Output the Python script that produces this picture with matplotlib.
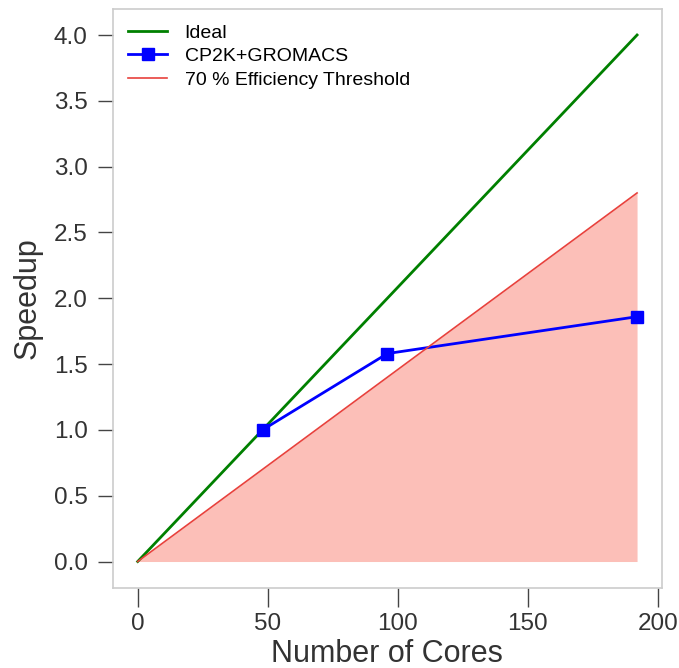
import matplotlib
matplotlib.use("Agg")
import matplotlib.pyplot as plt
import numpy as np

# core counts and measured speedups
cores = np.array([0, 48, 96, 192])
ideal = cores / 48.0
threshold = 0.7 * ideal

run_cores = [48, 96, 192]
run_speedup = [1.0, 1.58, 1.86]

x_ticks = [0, 50, 100, 150, 200]
y_ticks = [0.0, 0.5, 1.0, 1.5, 2.0, 2.5, 3.0, 3.5, 4.0]

plt.rcParams['font.family'] = ['Liberation Sans', 'DejaVu Sans']

fig = plt.figure(figsize=(6.79, 6.68), dpi=100)
ax = fig.add_axes([0.166, 0.12, 0.809, 0.867])

ax.plot(cores, ideal, color='green', lw=2, label='Ideal')
ax.plot(run_cores, run_speedup, color='blue', lw=2, marker='s', ms=8,
        label='CP2K+GROMACS')
ax.plot(cores, threshold, color='#e8413c', lw=1.2,
        label='70 % Efficiency Threshold')
ax.fill_between(cores, 0, threshold, color='salmon', alpha=0.5, lw=0)

ax.set_xlim(-9.6, 201.6)
ax.set_ylim(-0.2, 4.2)
ax.set_xticks(x_ticks)
ax.set_yticks(y_ticks)
ax.set_yticklabels(["%.1f" % v for v in y_ticks])

for s in ax.spines.values():
    s.set_color('#cccccc')
    s.set_linewidth(1.2)

ax.tick_params(axis='both', which='major', direction='out', width=1,
               color='#444444', labelsize=17.5, labelcolor='#333333')
ax.tick_params(axis='x', length=14, pad=4)
ax.tick_params(axis='y', length=11, pad=7)

ax.set_xlabel("Number of Cores", fontsize=22, color='#333333', labelpad=3)
ax.set_ylabel("Speedup", fontsize=22, color='#333333', labelpad=8)

ax.legend(loc='upper left', frameon=False, fontsize=14, labelspacing=0.3,
          borderaxespad=0.4, handletextpad=0.9)

fig.savefig("out.png", dpi=100)
